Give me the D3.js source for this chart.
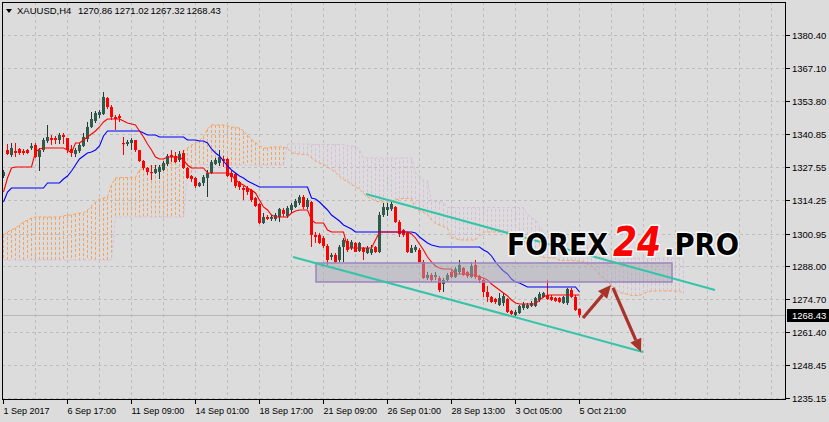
<!DOCTYPE html>
<html><head><meta charset="utf-8">
<script src="https://cdn.jsdelivr.net/npm/d3@7/dist/d3.min.js"></script>
<style>html,body{margin:0;padding:0;background:#dcdcdc;}svg{display:block;}</style>
</head><body>
<svg id="c" width="829" height="422"></svg>
<script>
// ---------- DATA ----------
const symbolTitle = "XAUUSD,H4";
const titleValues = ["1270.86", "1271.02", "1267.32", "1268.43"];
const lastPrice = 1268.43;

const open = [1324.0,1334.4,1332.4,1334.0,1334.8,1334.0,1334.4,1335.2,1336.4,1331.6,
1334.4,1338.0,1339.2,1339.2,1338.4,1340.4,1339.2,1334.8,1332.8,1334.0,
1336.0,1338.8,1343.6,1346.0,1348.4,1348.8,1355.2,1351.6,1347.6,1348.0,
1337.2,1336.8,1337.2,1338.4,1334.4,1330.0,1327.2,1325.6,1325.2,1325.6,
1326.4,1328.8,1332.4,1332.0,1330.4,1333.2,1327.2,1324.0,1323.2,1320.0,
1321.2,1323.2,1325.2,1328.8,1329.2,1330.8,1330.8,1325.2,1324.8,1321.6,
1319.2,1319.2,1318.4,1315.2,1312.8,1305.2,1307.6,1306.8,1306.8,1307.6,
1310.4,1308.0,1310.4,1311.6,1313.2,1315.6,1311.6,1313.6,1300.4,1300.4,
1299.2,1296.0,1291.6,1292.4,1290.4,1295.6,1298.0,1295.2,1297.2,1294.0,
1295.2,1293.2,1293.2,1295.6,1293.6,1308.4,1310.4,1310.8,1311.6,1305.6,
1302.4,1301.2,1293.2,1294.4,1294.4,1289.6,1283.2,1284.4,1283.6,1283.2,
1280.8,1282.4,1285.6,1283.6,1285.6,1287.2,1285.6,1283.6,1288.4,1284.0,
1282.4,1277.6,1275.6,1274.8,1272.4,1273.2,1274.8,1270.0,1268.4,1269.2,
1271.2,1271.2,1272.0,1272.0,1274.4,1275.6,1276.4,1275.6,1275.2,1275.2,
1273.2,1273.2,1278.4,1275.6,1270.86];
const high = [1326.4,1336.8,1337.2,1337.2,1335.2,1334.8,1334.8,1337.2,1337.2,1335.2,
1339.2,1344.4,1340.4,1340.0,1341.2,1341.2,1339.2,1336.4,1335.2,1337.2,
1341.2,1345.6,1349.6,1350.0,1350.4,1357.6,1355.6,1352.4,1348.4,1348.8,
1339.6,1338.4,1339.2,1338.4,1334.4,1330.4,1327.6,1328.4,1328.4,1328.4,
1330.0,1332.8,1334.4,1333.6,1334.0,1334.4,1327.6,1324.4,1323.6,1321.6,
1324.4,1326.4,1330.4,1331.2,1334.4,1332.0,1331.2,1326.0,1325.2,1322.0,
1320.0,1320.0,1318.8,1315.6,1313.2,1309.2,1308.4,1308.4,1309.2,1311.2,
1311.2,1312.0,1313.2,1314.8,1316.4,1316.4,1315.2,1314.0,1301.6,1301.2,
1300.0,1296.8,1293.2,1293.2,1296.4,1299.2,1298.8,1298.4,1297.6,1297.6,
1295.6,1296.0,1296.4,1296.0,1309.6,1313.2,1313.2,1314.4,1312.0,1306.4,
1302.8,1301.6,1296.4,1296.4,1295.2,1290.4,1285.6,1285.2,1285.6,1284.0,
1283.2,1285.2,1286.4,1287.6,1290.4,1287.6,1286.0,1289.6,1290.4,1284.4,
1283.2,1280.0,1276.0,1275.2,1277.2,1277.2,1275.2,1270.4,1270.4,1272.4,
1273.6,1273.2,1274.0,1275.6,1277.6,1277.6,1282.4,1276.4,1275.6,1275.6,
1276.0,1279.2,1279.2,1276.4,1271.02];
const low = [1323.2,1332.4,1331.6,1331.6,1332.4,1332.4,1332.8,1334.4,1331.2,1326.0,
1333.6,1337.2,1336.4,1336.8,1336.8,1336.8,1333.2,1331.6,1331.6,1333.2,
1335.6,1337.6,1343.2,1345.2,1347.2,1348.4,1350.8,1346.4,1342.4,1345.6,
1332.4,1336.0,1334.4,1333.6,1329.6,1326.4,1324.4,1322.4,1324.8,1322.8,
1326.0,1328.0,1329.6,1329.2,1329.6,1326.8,1322.8,1321.6,1319.2,1319.6,
1320.0,1315.6,1324.8,1328.4,1328.0,1327.6,1323.6,1321.6,1319.2,1318.4,
1314.4,1316.4,1313.6,1311.6,1304.8,1304.8,1306.4,1306.0,1306.0,1305.6,
1307.6,1307.2,1309.2,1311.2,1312.4,1310.8,1310.8,1295.6,1297.2,1296.8,
1295.2,1288.4,1290.4,1289.2,1289.6,1289.6,1293.6,1294.4,1293.6,1293.6,
1290.4,1292.8,1292.4,1293.2,1293.2,1307.6,1308.0,1310.0,1305.2,1299.6,
1299.6,1293.2,1293.2,1293.6,1289.2,1282.8,1282.4,1281.6,1282.4,1277.6,
1277.6,1281.6,1283.2,1283.2,1284.8,1284.0,1283.2,1283.2,1282.8,1281.2,
1275.6,1273.6,1273.2,1272.8,1272.0,1272.0,1269.2,1268.4,1268.0,1268.8,
1270.4,1270.8,1271.6,1271.6,1273.6,1275.2,1274.4,1274.0,1273.6,1273.2,
1272.8,1272.4,1275.2,1270.0,1267.32];
const close = [1325.6,1332.8,1335.2,1333.2,1333.2,1333.2,1333.2,1336.0,1331.6,1334.4,
1338.4,1339.6,1338.4,1338.4,1340.4,1339.6,1334.4,1333.2,1334.4,1336.4,
1339.6,1343.6,1346.8,1349.2,1349.6,1355.6,1351.6,1347.6,1346.8,1347.2,
1336.8,1337.6,1338.4,1334.4,1330.0,1327.2,1325.6,1325.2,1326.8,1327.6,
1329.2,1332.0,1331.6,1329.6,1332.8,1327.2,1323.2,1322.8,1320.0,1321.2,
1323.6,1325.2,1329.6,1330.4,1331.6,1330.0,1324.0,1323.6,1320.0,1319.6,
1318.4,1317.6,1314.4,1312.0,1305.2,1307.6,1306.8,1307.6,1308.4,1310.8,
1308.8,1311.2,1312.4,1314.0,1315.6,1311.6,1314.4,1300.4,1299.6,1297.2,
1296.0,1290.4,1292.4,1289.6,1295.6,1298.4,1294.4,1297.6,1293.6,1297.2,
1293.6,1295.2,1294.8,1293.6,1308.4,1311.6,1311.6,1312.8,1305.6,1300.8,
1300.4,1293.6,1295.2,1295.6,1289.6,1283.2,1284.4,1282.4,1284.4,1278.4,
1282.4,1284.4,1283.6,1286.8,1288.4,1284.4,1284.0,1288.0,1283.6,1282.4,
1277.6,1275.6,1273.6,1273.6,1275.2,1276.0,1269.6,1268.8,1269.6,1272.0,
1272.8,1272.4,1273.2,1275.2,1276.8,1277.2,1274.8,1274.4,1274.0,1273.6,
1275.6,1278.8,1275.6,1270.4,1268.43];

// Ichimoku lines (one value per bar)
const tenkan = [1317.6,1323.2,1327.2,1327.6,1327.6,1327.6,1327.6,1327.6,1333.6,1334.8,
1335.2,1335.2,1335.2,1335.2,1335.2,1335.2,1334.4,1333.2,1337.2,1337.2,
1338.4,1339.6,1340.8,1342.0,1343.6,1345.6,1346.8,1346.8,1346.8,1346.8,
1346.0,1345.2,1344.8,1344.4,1342.0,1339.6,1336.8,1334.4,1331.6,1330.8,
1330.8,1331.6,1331.6,1331.6,1331.6,1330.4,1328.4,1327.2,1327.2,1327.2,
1327.2,1325.2,1325.2,1325.2,1325.2,1325.2,1325.2,1324.4,1322.4,1321.2,
1320.4,1319.2,1318.4,1317.2,1314.4,1311.6,1310.4,1308.4,1307.6,1307.6,
1307.6,1307.6,1309.2,1310.0,1310.4,1310.4,1310.4,1306.4,1305.2,1305.2,
1305.2,1302.4,1301.6,1301.6,1301.6,1301.6,1295.2,1295.2,1295.2,1295.2,
1295.2,1295.2,1295.2,1298.4,1301.6,1301.6,1301.6,1301.6,1301.6,1301.6,
1301.6,1301.6,1300.8,1299.2,1296.8,1294.4,1291.6,1289.6,1288.0,1287.2,
1286.8,1286.8,1286.8,1284.8,1284.8,1284.8,1284.8,1284.4,1284.4,1283.6,
1283.2,1282.4,1280.8,1279.6,1278.4,1277.2,1276.0,1274.4,1273.2,1272.8,
1272.8,1272.8,1272.8,1272.8,1274.4,1275.6,1276.4,1276.4,1276.4,1276.4,
1276.4,1276.4,1276.4,1276.4,1276.4];
const kijun = [1313.6,1317.6,1319.2,1319.2,1319.2,1319.2,1319.2,1319.2,1319.2,1319.2,
1319.2,1321.2,1321.2,1321.2,1321.2,1322.8,1324.0,1326.0,1328.4,1330.8,
1332.0,1333.2,1333.6,1334.4,1336.0,1340.0,1342.0,1342.0,1342.0,1342.0,
1342.0,1342.0,1342.0,1342.0,1342.0,1341.2,1340.4,1340.4,1340.4,1339.6,
1339.6,1339.6,1339.6,1339.6,1339.6,1339.6,1338.4,1338.4,1338.4,1338.0,
1338.0,1337.2,1334.8,1333.2,1332.0,1330.0,1328.0,1326.4,1325.2,1324.0,
1323.2,1322.0,1321.2,1320.4,1319.6,1319.6,1319.6,1319.6,1319.6,1319.6,
1319.6,1319.6,1319.6,1319.6,1319.6,1319.6,1319.6,1315.2,1314.8,1313.6,
1312.0,1310.4,1308.4,1307.2,1306.0,1304.4,1303.6,1302.8,1301.6,1301.6,
1301.6,1301.6,1301.6,1301.6,1301.6,1301.6,1301.6,1301.6,1301.6,1301.6,
1301.6,1301.6,1301.6,1301.2,1299.6,1298.4,1297.2,1296.4,1296.0,1295.6,
1295.6,1295.6,1295.6,1295.6,1295.6,1295.6,1295.6,1295.6,1295.6,1295.6,
1294.4,1293.6,1292.0,1289.6,1287.6,1286.0,1284.8,1282.8,1281.6,1281.2,
1280.4,1279.6,1279.6,1279.6,1279.6,1279.6,1279.6,1279.6,1279.6,1279.6,
1279.6,1279.6,1279.6,1279.6,1277.6];
// Senkou spans (cloud), bars 0..170 (26 bars ahead of the last candle)
const spanA = [1300.4,1301.6,1302.4,1303.2,1304.4,1305.6,1306.4,1307.2,1307.6,1307.6,
1307.6,1307.6,1307.6,1307.6,1307.6,1308.0,1308.4,1308.4,1308.8,1309.2,
1309.2,1310.4,1312.0,1313.6,1314.8,1315.2,1315.6,1320.4,1323.2,1323.4,
1323.4,1323.4,1323.4,1323.4,1326.4,1327.0,1327.2,1328.2,1328.2,1328.2,
1328.2,1329.0,1329.2,1329.6,1332.8,1334.0,1335.2,1336.4,1337.2,1338.2,
1339.8,1342.8,1344.4,1344.4,1344.4,1344.4,1344.0,1343.6,1343.4,1343.2,
1342.0,1340.4,1338.6,1337.4,1336.0,1335.2,1335.2,1335.6,1335.6,1335.6,
1335.6,1335.0,1333.4,1332.8,1332.8,1332.6,1332.6,1331.2,1330.0,1329.2,
1328.6,1327.6,1326.6,1325.4,1323.8,1322.6,1321.8,1320.6,1319.8,1318.8,
1317.0,1315.6,1315.0,1314.0,1313.6,1313.6,1313.6,1313.6,1314.4,1314.8,
1315.0,1315.0,1315.0,1310.8,1310.0,1309.4,1308.6,1306.4,1305.0,1304.4,
1303.8,1303.0,1299.4,1299.0,1298.4,1298.4,1298.4,1298.4,1298.4,1300.0,
1301.6,1301.6,1301.6,1301.6,1301.6,1301.6,1301.6,1301.6,1301.2,1300.2,
1298.2,1296.4,1294.4,1293.0,1292.0,1291.4,1291.2,1291.2,1291.2,1290.2,
1290.2,1290.2,1290.2,1290.0,1290.0,1289.6,1288.8,1288.0,1286.4,1284.6,
1283.0,1281.6,1280.4,1278.6,1277.4,1277.0,1276.6,1276.2,1276.2,1276.2,
1277.0,1277.6,1278.0,1278.0,1278.0,1278.0,1278.0,1278.0,1278.0,1278.0,
1277.0];
const spanB = [1290.4,1290.4,1290.4,1290.4,1290.4,1290.4,1290.4,1290.4,1290.4,1290.4,
1290.4,1290.4,1290.4,1290.4,1290.4,1290.4,1290.4,1290.4,1290.4,1290.4,
1290.4,1290.4,1290.4,1290.4,1290.4,1290.4,1290.4,1290.4,1307.6,1307.6,
1307.6,1307.6,1307.6,1307.6,1307.6,1307.6,1307.6,1307.6,1307.6,1307.6,
1307.6,1307.6,1307.6,1307.6,1307.6,1307.6,1325.2,1325.2,1328.4,1328.4,
1328.4,1328.4,1328.4,1328.4,1328.4,1328.4,1328.4,1328.4,1328.4,1328.4,
1328.4,1328.4,1328.4,1328.4,1328.4,1328.4,1328.4,1328.4,1328.4,1328.4,
1328.4,1336.8,1336.8,1336.8,1336.8,1336.8,1336.8,1336.6,1336.6,1336.6,
1336.6,1336.6,1336.6,1336.6,1336.6,1336.6,1336.0,1336.0,1335.6,1334.6,
1331.2,1331.2,1331.2,1331.2,1331.2,1331.2,1331.2,1331.2,1331.2,1331.2,
1331.2,1331.2,1331.2,1325.6,1324.0,1322.2,1322.0,1314.0,1313.8,1313.8,
1313.4,1311.4,1311.4,1311.4,1311.4,1311.4,1311.4,1311.4,1311.4,1311.4,
1311.4,1311.4,1311.4,1311.4,1311.4,1311.4,1311.4,1311.4,1311.4,1311.4,
1311.4,1308.6,1307.2,1306.4,1303.8,1301.4,1299.8,1298.8,1298.8,1298.2,
1297.0,1297.0,1297.0,1297.0,1297.0,1297.0,1296.0,1295.0,1294.8,1294.6,
1294.2,1294.2,1292.8,1291.8,1291.2,1291.2,1291.2,1291.2,1291.2,1291.2,
1291.2,1291.2,1291.2,1291.2,1291.2,1291.2,1291.2,1291.2,1291.2,1291.2,
1290.9];

const yTicks = [1380.40,1367.10,1353.80,1340.85,1327.55,1314.25,1300.95,1288.00,1274.70,1261.40,1248.45,1235.15];
const xTickLabels = ["1 Sep 2017","6 Sep 17:00","11 Sep 09:00","14 Sep 01:00","18 Sep 17:00","21 Sep 09:00","26 Sep 01:00","28 Sep 13:00","3 Oct 05:00","5 Oct 21:00"];
const xTickBars = [0,16,32,48,64,80,96,112,128,144];

// drawn objects: [bar, price]
const channelUpper = [[90.75,1316.8],[178,1278.4]];
const channelLower = [[72.5,1291.6],[160,1253.6]];
const zoneRect = [[78.25,1289.2],[167.25,1281.6]];
const arrowUp = [[145,1267.2],[152,1280.4]];
const arrowDown = [[152.5,1279.2],[159.5,1253.6]];

// ---------- CHART ----------
const svg = d3.select('#c');
const L = 2, R = 786, T = 2, B = 400;
const x = d3.scaleLinear().domain([0, 144]).range([3, 579]);
const y = d3.scaleLinear().domain([1235.15, 1380.40]).range([398.1, 35]);
const BG = '#dcdcdc';
const FONT = '"Liberation Sans", Arial, sans-serif';

svg.append('rect').attr('width', 829).attr('height', 422).attr('fill', BG);

svg.append('clipPath').attr('id', 'clip').append('rect')
  .attr('x', L).attr('y', T).attr('width', R - L).attr('height', B - T);

const plot = svg.append('g').attr('clip-path', 'url(#clip)');

// grid
const gridCol = '#bdbdbd';
plot.append('g').selectAll('line').data(yTicks).join('line')
  .attr('x1', L).attr('x2', R)
  .attr('y1', d => Math.round(y(d)) + 0.5).attr('y2', d => Math.round(y(d)) + 0.5)
  .attr('stroke', gridCol).attr('stroke-dasharray', '3,3');
const vGrid = d3.range(8, 8 + 24 * 8 + 1, 8); // bar positions every 8 bars
plot.append('g').selectAll('line').data(vGrid).join('line')
  .attr('x1', d => x(d) + 0.5).attr('x2', d => x(d) + 0.5)
  .attr('y1', T).attr('y2', B)
  .attr('stroke', gridCol).attr('stroke-dasharray', '3,3');

// price line
plot.append('line').attr('x1', L).attr('x2', R)
  .attr('y1', Math.round(y(lastPrice)) + 0.5).attr('y2', Math.round(y(lastPrice)) + 0.5)
  .attr('stroke', '#b8b8b8');

// cloud hatch
const SANDY = '#f4a460', THISTLE = '#d8bfd8';
const cloudIdx = d3.range(spanA.length);
plot.append('g').selectAll('line').data(cloudIdx).join('line')
  .attr('x1', i => x(i) + 0.5).attr('x2', i => x(i) + 0.5)
  .attr('y1', i => y(spanA[i])).attr('y2', i => y(spanB[i]))
  .attr('stroke', i => spanA[i] >= spanB[i] ? SANDY : THISTLE)
  .attr('stroke-dasharray', '3,2');
const spanLine = d3.line().x((d, i) => x(i) + 0.5).y(d => y(d));
plot.append('path').datum(spanB).attr('d', spanLine).attr('fill', 'none')
  .attr('stroke', THISTLE).attr('stroke-dasharray', '3,2');
plot.append('path').datum(spanA).attr('d', spanLine).attr('fill', 'none')
  .attr('stroke', SANDY).attr('stroke-dasharray', '3,2');

// candles
const bars = d3.range(open.length);
const BULL = '#2f5a4c', BULL_EDGE = '#1e3a32', BEAR = '#ff0000';
const cg = plot.append('g');
cg.selectAll('line.w').data(bars).join('line').attr('class', 'w')
  .attr('x1', i => x(i) + 0.5).attr('x2', i => x(i) + 0.5)
  .attr('y1', i => y(high[i])).attr('y2', i => y(low[i]))
  .attr('stroke', i => close[i] >= open[i] ? BULL_EDGE : BEAR);
cg.selectAll('rect').data(bars).join('rect')
  .attr('x', i => x(i) - 1).attr('width', 3)
  .attr('y', i => y(Math.max(open[i], close[i])))
  .attr('height', i => Math.max(1.2, Math.abs(y(open[i]) - y(close[i]))))
  .attr('fill', i => close[i] >= open[i] ? BULL : BEAR);

// tenkan / kijun
const ln = d3.line().x((d, i) => x(i) + 0.5).y(d => y(d));
plot.append('path').datum(kijun).attr('d', ln).attr('fill', 'none').attr('stroke', '#0000ff').attr('stroke-width', 1.1);
plot.append('path').datum(tenkan).attr('d', ln).attr('fill', 'none').attr('stroke', '#ff0000').attr('stroke-width', 1.1);

// zone rectangle
plot.append('rect')
  .attr('x', x(zoneRect[0][0])).attr('y', y(zoneRect[0][1]))
  .attr('width', x(zoneRect[1][0]) - x(zoneRect[0][0]))
  .attr('height', y(zoneRect[1][1]) - y(zoneRect[0][1]))
  .attr('fill', 'rgba(168,168,180,0.5)').attr('stroke', '#9c84bf').attr('stroke-width', 1.5);

// channel
const pt = d => [x(d[0]), y(d[1])];
[channelUpper, channelLower].forEach(c => {
  plot.append('line').attr('x1', pt(c[0])[0]).attr('y1', pt(c[0])[1])
    .attr('x2', pt(c[1])[0]).attr('y2', pt(c[1])[1])
    .attr('stroke', '#35c4a8').attr('stroke-width', 2);
});

// watermark
const wm = plot.append('g').attr('font-family', '"DejaVu Sans", sans-serif').attr('font-weight', 'bold')
  .attr('stroke', 'rgba(255,255,255,0.85)').attr('stroke-width', 3).attr('paint-order', 'stroke')
  .attr('stroke-linejoin', 'round');
wm.append('text').attr('x', 507).attr('y', 255).attr('font-size', 30).attr('fill', '#000')
  .attr('textLength', 101).attr('lengthAdjust', 'spacingAndGlyphs').text('FOREX');
wm.append('text').attr('x', 613).attr('y', 256).attr('font-size', 40).attr('font-style', 'italic').attr('fill', '#ff0000')
  .attr('textLength', 48).attr('lengthAdjust', 'spacingAndGlyphs').text('24');
wm.append('text').attr('x', 664).attr('y', 255).attr('font-size', 30).attr('fill', '#000')
  .attr('textLength', 75).attr('lengthAdjust', 'spacingAndGlyphs').text('.PRO');

// arrows
const ARW = '#a9322a';
[arrowUp, arrowDown].forEach(a => {
  const [x0, y0] = pt(a[0]), [x1, y1] = pt(a[1]);
  const ang = Math.atan2(y1 - y0, x1 - x0);
  const hl = 13, hw = 6;
  const bx = x1 - hl * Math.cos(ang), by = y1 - hl * Math.sin(ang);
  plot.append('line').attr('x1', x0).attr('y1', y0).attr('x2', bx).attr('y2', by)
    .attr('stroke', ARW).attr('stroke-width', 3.2);
  const px = -Math.sin(ang) * hw, py = Math.cos(ang) * hw;
  plot.append('path').attr('d', `M${x1},${y1}L${bx + px},${by + py}L${bx - px},${by - py}Z`).attr('fill', ARW);
});

// frame
svg.append('rect').attr('x', L + 0.5).attr('y', T + 0.5).attr('width', R - L - 1).attr('height', B - T - 1)
  .attr('fill', 'none').attr('stroke', '#000');

// y axis
const ya = svg.append('g').attr('font-family', FONT).attr('font-size', 9.5).attr('fill', '#000');
ya.selectAll('line').data(yTicks).join('line')
  .attr('x1', R).attr('x2', R + 4)
  .attr('y1', d => Math.round(y(d)) + 0.5).attr('y2', d => Math.round(y(d)) + 0.5).attr('stroke', '#000');
ya.selectAll('text').data(yTicks).join('text')
  .attr('x', R + 6).attr('y', d => Math.round(y(d)) + 3.5).text(d => d.toFixed(2));
// current price tag
const py0 = Math.round(y(lastPrice));
svg.append('rect').attr('x', R + 1).attr('y', py0 - 6).attr('width', 829 - R - 1).attr('height', 13).attr('fill', '#000');
svg.append('text').attr('x', R + 6).attr('y', py0 + 3.5).attr('font-family', FONT).attr('font-size', 9.5)
  .attr('fill', '#fff').text(lastPrice.toFixed(2));

// x axis
const xa = svg.append('g').attr('font-family', FONT).attr('font-size', 9).attr('fill', '#000');
xa.selectAll('line').data(xTickBars).join('line')
  .attr('x1', d => x(d) + 0.5).attr('x2', d => x(d) + 0.5).attr('y1', B).attr('y2', B + 4).attr('stroke', '#000');
xa.selectAll('text').data(xTickLabels).join('text')
  .attr('x', (d, i) => x(xTickBars[i]) + 0.5).attr('y', 414).text(d => d);

// title
svg.append('path').attr('d', 'M6,9L12,9L9,13Z').attr('fill', '#000');
const tg = svg.append('g').attr('font-family', FONT).attr('font-size', 9.5).attr('fill', '#000');
tg.append('text').attr('x', 17).attr('y', 14).text(symbolTitle);
const tvx = [78, 114.5, 150.5, 186.5];
tg.selectAll('text.v').data(titleValues).join('text').attr('class', 'v')
  .attr('x', (d, i) => tvx[i]).attr('y', 14).text(d => d);
</script>
</body></html>
